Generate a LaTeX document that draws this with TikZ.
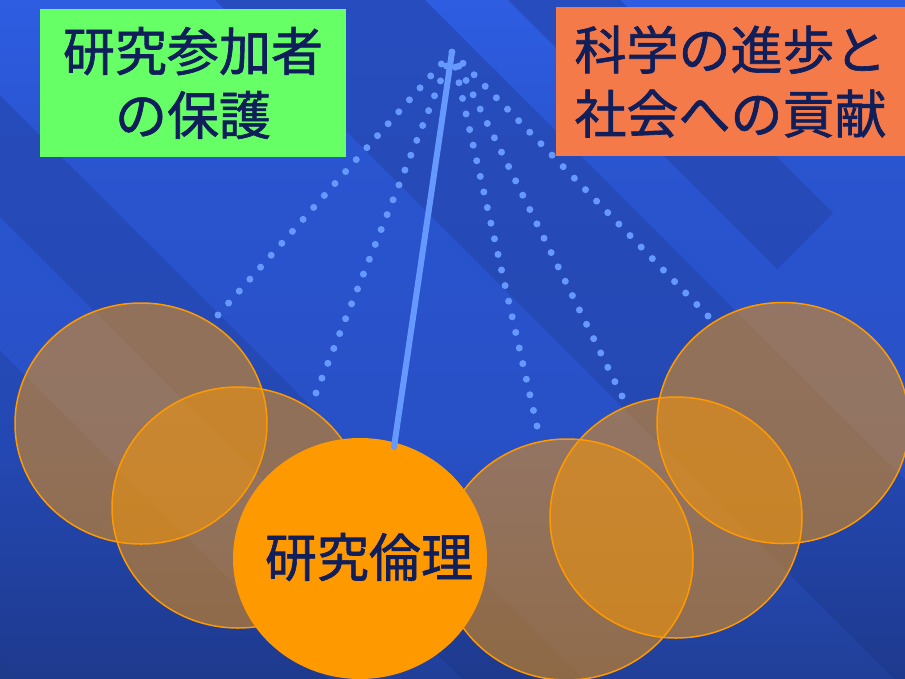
\documentclass[tikz,border=0pt]{standalone}
\usepackage{fontspec}
\newfontfamily\cjk{Noto Sans CJK JP}[FakeBold=1.2]
\usetikzlibrary{shapes.geometric}
\definecolor{navy}{HTML}{101E5A}
\definecolor{pend}{HTML}{FF9900}
\definecolor{rod}{HTML}{6699FF}
\definecolor{boxgreen}{HTML}{66FF66}
\definecolor{boxorange}{HTML}{F47A4A}
\definecolor{dkA}{HTML}{1E3A8E}
\definecolor{dkB}{HTML}{2448B3}
\definecolor{dkC}{HTML}{264BB9}
\definecolor{dkD}{HTML}{274CBE}
\definecolor{ltA}{HTML}{213F98}
\definecolor{ltB}{HTML}{2850C6}
\definecolor{ltC}{HTML}{2A55D0}
\definecolor{ltD}{HTML}{2E5DE2}
\definecolor{corner}{HTML}{1E3A8A}
\pgfdeclareverticalshading{darkbg}{100bp}{color(0bp)=(dkA); color(25bp)=(dkA); color(42bp)=(dkB); color(64bp)=(dkC); color(75bp)=(dkD); color(100bp)=(dkD)}
\pgfdeclareverticalshading{lightbg}{100bp}{color(0bp)=(ltA); color(25bp)=(ltA); color(42bp)=(ltB); color(64bp)=(ltC); color(75bp)=(ltD); color(100bp)=(ltD)}
\begin{document}
\begin{tikzpicture}[x=1pt,y=-1pt,
  swing/.style={ellipse, minimum width=252pt, minimum height=241pt, inner sep=0pt,
    draw=pend, line width=1.5pt, fill=pend, fill opacity=0.5},
  centrebob/.style={ellipse, minimum width=254pt, minimum height=241pt, inner sep=0pt,
    fill=pend},
  dotline/.style={draw=rod, line width=7pt, line cap=round, dash pattern=on 0pt off 16pt},
  rodline/.style={draw=rod, line width=6pt, line cap=round},
  labelbox/.style={rectangle, inner sep=0pt, text=navy, align=center,
    font=\cjk\fontsize{52}{64}\selectfont}]
\useasboundingbox (0,0) rectangle (905,678);
% background
\shade[shading=darkbg] (0,0) rectangle (905,678);
\begin{scope}
  \clip (0,0) -- (215,0) -- (1100,885) -- (1100,1195) -- (0,95) -- cycle;
  \shade[shading=lightbg] (0,0) rectangle (905,678);
\end{scope}
\begin{scope}
  \clip (0,217) -- (1000,1217) -- (1000,1350) -- (0,350) -- cycle;
  \shade[shading=lightbg] (0,0) rectangle (905,678);
\end{scope}
\begin{scope}
  \clip (425,0) -- (1300,875) -- (1300,0) -- cycle;
  \shade[shading=lightbg] (0,0) rectangle (905,678);
\end{scope}
\begin{scope}
  \clip (508,0) -- (620,0) -- (833,213) -- (777,269) -- cycle;
  \shade[shading=darkbg] (0,0) rectangle (905,678);
\end{scope}
\fill[corner] (0,660) -- (18,678) -- (0,678) -- cycle;
% pendulum
\coordinate (pivot) at (452,52);
\coordinate (e1) at (218,315);
\coordinate (e2) at (316,393);
\coordinate (e3) at (537,426);
\coordinate (e4) at (622,396);
\coordinate (e5) at (708,316);
\coordinate (bobtop) at (394,447);
\draw[dotline] (e1) -- (pivot);
\draw[dotline] (e2) -- (pivot);
\draw[dotline] (e3) -- (pivot);
\draw[dotline] (e4) -- (pivot);
\draw[dotline] (e5) -- (pivot);
\node[swing] (c1) at (141,423.5) {};
\node[swing] (c2) at (238,507.5) {};
\node[swing] (c6) at (783,423) {};
\node[swing] (c5) at (676,517.5) {};
\node[swing] (c4) at (567,559.5) {};
\node[centrebob] (ethics) at (360,558.5) {};
\node[labelbox] (ethicstext) at (369,557) {研究倫理};
\draw[rodline] (pivot) -- (bobtop);
% label boxes
\node[labelbox, fill=boxgreen, minimum width=306pt, minimum height=148pt] (protect) at (193,83) {研究参加者\\の保護};
\node[labelbox, fill=boxorange, minimum width=349pt, minimum height=149pt] (science) at (730.5,81.5) {科学の進歩と\\社会への貢献};
\end{tikzpicture}
\end{document}
